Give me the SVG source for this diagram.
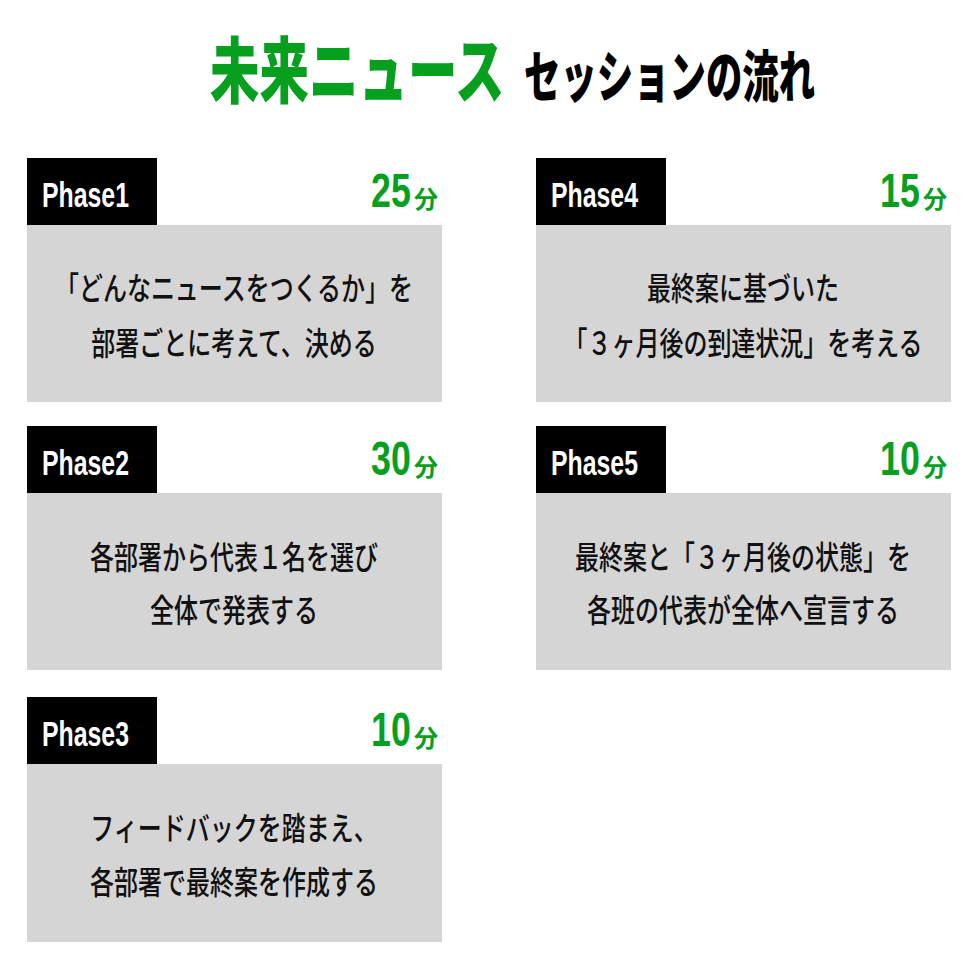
<svg xmlns="http://www.w3.org/2000/svg" width="978" height="978" viewBox="0 0 978 978">
<style>
.hdr{fill:#000}
.box{fill:#d5d5d5}
.lbl{font-family:"Liberation Sans",Arial,sans-serif;font-weight:700;font-size:35px;fill:#fff}
.num{font-family:"Liberation Sans",Arial,sans-serif;font-weight:700;font-size:49px;fill:#06a01e}
.min{font-family:"Noto Sans CJK JP",sans-serif;font-weight:700;font-size:24px;fill:#06a01e}
.body{font-family:"Noto Sans CJK JP",sans-serif;font-weight:500;font-size:24px;fill:#111;text-anchor:middle}
.t1{font-family:"Noto Sans CJK JP",sans-serif;font-weight:900;font-size:72px;fill:#06a01e}
.t2{font-family:"Noto Sans CJK JP",sans-serif;font-weight:900;font-size:56px;fill:#000}
</style>
<rect width="978" height="978" fill="#fff"/>
<g id="title">
<text class="t1" transform="translate(210,97) scale(0.6875,1)">未来ニュース</text>
<text class="t2" transform="translate(524,97) scale(0.65,1)">セッションの流れ</text>
</g>
<g id="phase1">
<rect class="hdr" x="27" y="158" width="130" height="67"/>
<rect class="box" x="27" y="225" width="415" height="177"/>
<text class="lbl" x="42" y="207" textLength="87" lengthAdjust="spacingAndGlyphs">Phase1</text>
<text class="num" transform="translate(371,207) scale(0.73,1)">25</text>
<text class="min" x="414" y="208">分</text>
<text class="body" transform="translate(234,300) scale(1,1.333)">「どんなニュースをつくるか」を</text>
<text class="body" transform="translate(234,355) scale(1,1.333)">部署ごとに考えて、決める</text>
</g>
<g id="phase2">
<rect class="hdr" x="27" y="426" width="130" height="67"/>
<rect class="box" x="27" y="493" width="415" height="177"/>
<text class="lbl" x="42" y="475" textLength="87" lengthAdjust="spacingAndGlyphs">Phase2</text>
<text class="num" transform="translate(371,475) scale(0.73,1)">30</text>
<text class="min" x="414" y="476">分</text>
<text class="body" transform="translate(234,569) scale(1,1.333)">各部署から代表１名を選び</text>
<text class="body" transform="translate(234,622) scale(1,1.333)">全体で発表する</text>
</g>
<g id="phase3">
<rect class="hdr" x="27" y="697" width="130" height="67"/>
<rect class="box" x="27" y="764" width="415" height="178"/>
<text class="lbl" x="42" y="746" textLength="87" lengthAdjust="spacingAndGlyphs">Phase3</text>
<text class="num" transform="translate(371,746) scale(0.73,1)">10</text>
<text class="min" x="414" y="747">分</text>
<text class="body" transform="translate(234,840) scale(1,1.333)">フィードバックを踏まえ、</text>
<text class="body" transform="translate(234,894) scale(1,1.333)">各部署で最終案を作成する</text>
</g>
<g id="phase4">
<rect class="hdr" x="536" y="158" width="130" height="67"/>
<rect class="box" x="536" y="225" width="415" height="177"/>
<text class="lbl" x="551" y="207" textLength="87" lengthAdjust="spacingAndGlyphs">Phase4</text>
<text class="num" transform="translate(880,207) scale(0.73,1)">15</text>
<text class="min" x="923" y="208">分</text>
<text class="body" transform="translate(743,300) scale(1,1.333)">最終案に基づいた</text>
<text class="body" transform="translate(743,355) scale(1,1.333)">「３ヶ月後の到達状況」を考える</text>
</g>
<g id="phase5">
<rect class="hdr" x="536" y="426" width="130" height="67"/>
<rect class="box" x="536" y="493" width="415" height="177"/>
<text class="lbl" x="551" y="475" textLength="87" lengthAdjust="spacingAndGlyphs">Phase5</text>
<text class="num" transform="translate(880,475) scale(0.73,1)">10</text>
<text class="min" x="923" y="476">分</text>
<text class="body" transform="translate(743,569) scale(1,1.333)">最終案と「３ヶ月後の状態」を</text>
<text class="body" transform="translate(743,622) scale(1,1.333)">各班の代表が全体へ宣言する</text>
</g>
<g id="connectors"/>
</svg>
